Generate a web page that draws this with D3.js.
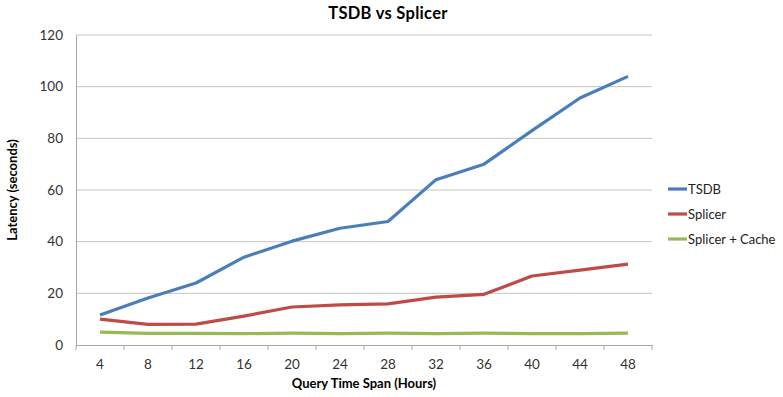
<!DOCTYPE html>
<html><head><meta charset="utf-8">
<script src="https://cdn.jsdelivr.net/npm/d3@7"></script>
<style>body{margin:0;background:#fff}svg{display:block;font-family:Lato,"Open Sans",sans-serif}</style>
</head><body><svg id="c" width="783" height="397"></svg>
<script>
const categories = [4,8,12,16,20,24,28,32,36,40,44,48];
const tsdb = [11.6,18.2,24,34,40.2,45.2,47.8,64,70,83,95.6,104];
const splicer = [10,8,8.1,11.2,14.7,15.5,15.9,18.5,19.6,26.7,29,31.3];
const splicerCache = [5,4.5,4.5,4.4,4.6,4.4,4.6,4.4,4.6,4.4,4.4,4.6];
const yTicks = [0,20,40,60,80,100,120];
const seriesNames = ["TSDB","Splicer","Splicer + Cache"];
const colors = ["#4A7EBB","#BE4B48","#98B954"];

const svg = d3.select("#c");
const L=76,R=652,T=35,B=345;
const x = d3.scaleBand().domain(categories).range([L,R]);
const y = d3.scaleLinear().domain([0,120]).range([B,T]);

svg.append("text").attr("x",388).attr("y",19).attr("text-anchor","middle")
  .attr("font-weight","bold").attr("font-size",16.5).attr("letter-spacing",0.3).attr("fill","#000").text("TSDB vs Splicer");

// gridlines
svg.append("g").selectAll("line").data(yTicks.filter(d=>d>0)).join("line")
  .attr("x1",L).attr("x2",R).attr("y1",d=>y(d)).attr("y2",d=>y(d))
  .attr("stroke","#c4c4c4").attr("stroke-width",1);

// y axis
const ya = svg.append("g").attr("transform",`translate(${L},0)`)
  .call(d3.axisLeft(y).tickValues(yTicks).tickSize(0).tickPadding(13));
ya.select(".domain").attr("stroke","#a6a6a6");
ya.selectAll("text").attr("font-size",13.5).attr("fill","#333").attr("font-family","Lato,'Open Sans',sans-serif");

// x axis
const xa = svg.append("g").attr("transform",`translate(0,${B})`)
  .call(d3.axisBottom(x).tickSize(0).tickPadding(14));
xa.select(".domain").attr("stroke","#a6a6a6");
xa.selectAll("text").attr("font-size",13.5).attr("fill","#333").attr("font-family","Lato,'Open Sans',sans-serif");
const bounds = d3.range(categories.length+1).map(i=>L+i*x.bandwidth());
svg.append("g").selectAll("line").data(bounds).join("line")
  .attr("x1",d=>d).attr("x2",d=>d).attr("y1",B).attr("y2",B+5).attr("stroke","#a6a6a6");

svg.append("text").attr("x",364).attr("y",388).attr("text-anchor","middle")
  .attr("font-weight","bold").attr("font-size",13).text("Query Time Span (Hours)");
svg.append("text").attr("transform","translate(17,190) rotate(-90)").attr("text-anchor","middle")
  .attr("font-weight","bold").attr("font-size",13).text("Latency (seconds)");

const line = d3.line().x((d,i)=>x(categories[i])+x.bandwidth()/2).y(d=>y(d));
[tsdb,splicer,splicerCache].forEach((s,k)=>{
  svg.append("path").datum(s).attr("d",line).attr("fill","none")
    .attr("stroke",colors[k]).attr("stroke-width",3.2).attr("stroke-linejoin","round");
});

// legend
const lg = svg.append("g");
seriesNames.forEach((n,k)=>{
  const yy = 189 + k*25;
  lg.append("line").attr("x1",668).attr("x2",687).attr("y1",yy).attr("y2",yy)
    .attr("stroke",colors[k]).attr("stroke-width",3.2);
  lg.append("text").attr("x",688).attr("y",yy+4.5).attr("font-size",13).attr("fill","#222").text(n);
});
</script></body></html>
